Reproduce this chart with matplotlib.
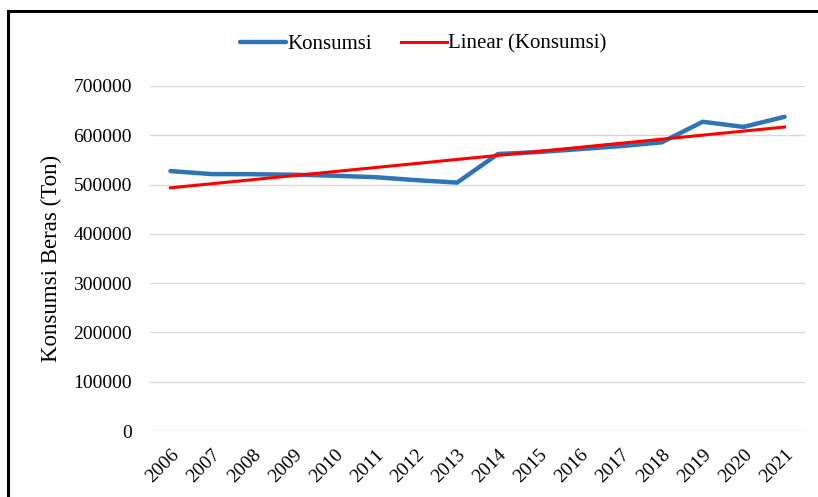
import matplotlib.pyplot as plt
import matplotlib.transforms as mtransforms
import numpy as np
from matplotlib.patches import Rectangle

years = [str(y) for y in range(2006, 2022)]
konsumsi = [527400, 521300, 521000, 520000, 518000, 515000, 509000, 504000,
            562000, 566000, 572000, 578000, 585600, 627400, 617000, 637500]
yticks = [0, 100000, 200000, 300000, 400000, 500000, 600000, 700000]

plt.rcParams['font.family'] = ['Liberation Serif', 'DejaVu Serif']

fig = plt.figure(figsize=(8.18, 4.97), dpi=100)
ax = fig.add_axes([150 / 818, 66 / 497, 655 / 818, 345 / 497])

x = np.arange(len(years))
ax.plot(x, konsumsi, color='#2E75B6', lw=3.2, solid_capstyle='round',
        solid_joinstyle='round', label='Konsumsi', zorder=3)

# linear trendline, like Excel's
coef = np.polyfit(x + 1, konsumsi, 1)
ax.plot(x, np.polyval(coef, x + 1), color='#FF0000', lw=2.2,
        label='Linear (Konsumsi)', zorder=4)

ax.set_xlim(-0.5, len(years) - 0.5)
ax.set_ylim(0, 700000)
ax.set_yticks(yticks)
ax.set_yticklabels([str(v) for v in yticks], fontsize=14)
ax.set_xticks(x)
ax.set_xticklabels(years, rotation=45, ha='right', rotation_mode='anchor',
                   fontsize=14)
shift = mtransforms.ScaledTranslation(-5 / 100, 0, fig.dpi_scale_trans)
for lbl in ax.get_xticklabels():
    lbl.set_transform(lbl.get_transform() + shift)
ax.tick_params(length=0)
ax.tick_params(axis='y', pad=13)
ax.tick_params(axis='x', pad=11)
ax.grid(axis='y', color='#D9D9D9', lw=1)
ax.set_axisbelow(True)
for s in ax.spines.values():
    s.set_visible(False)

ax.set_ylabel('Konsumsi Beras (Ton)', fontsize=16.5, labelpad=8)

fig.legend(loc='center', bbox_to_anchor=(423 / 818, 1 - 44 / 497), ncol=2,
           frameon=False, fontsize=15, handlelength=2.2, columnspacing=1.4,
           handletextpad=0.05)

# black frame around the chart (cropped on right and bottom)
fig.add_artist(Rectangle((8 / 818, -0.2), 1.2, 1 - 11 / 497 + 0.2,
                         transform=fig.transFigure, fill=False,
                         edgecolor='black', lw=2.2))

fig.savefig('out.png', dpi=100)
